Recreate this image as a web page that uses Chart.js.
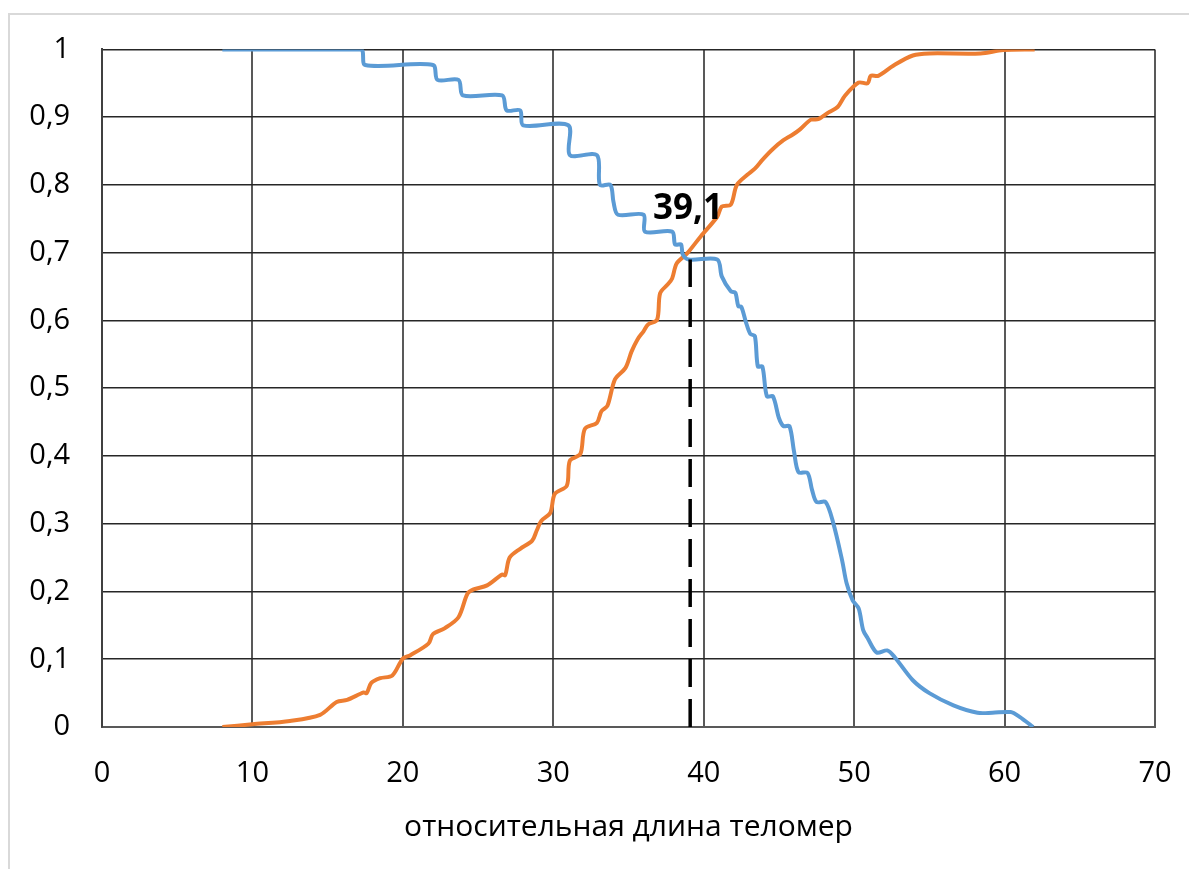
<!DOCTYPE html>
<html lang="ru">
<head>
  <meta charset="UTF-8">
  <title>Относительная длина теломер</title>
  <script src="https://cdn.jsdelivr.net/npm/chart.js"></script>
  <style>
    body {
      margin: 0;
      background: #fff;
      overflow: hidden;
    }
    .frame {
      position: absolute;
      left: 8px;
      top: 13px;
      width: 1300px;
      height: 1000px;
      border: 2px solid #d9d9d9;
    }
    #chartBox {
      position: absolute;
      left: 0;
      top: 0;
      width: 1189px;
      height: 869px;
    }
  </style>
</head>
<body>
  <div class="frame"></div>
  <div id="chartBox"><canvas id="telomereChart" width="1189" height="869"></canvas></div>

  <script>
    // blue curve (descending)
    const blueX = [8, 17.2, 17.5, 22, 22.3, 23.7, 24, 26.6, 26.9, 27.8, 28, 31, 31.1, 32.9, 33.1, 33.8, 34, 34.3, 36, 36.1,
      37.9, 38.1, 38.5, 38.6, 39.0, 40.9, 41.2, 41.8, 42.1, 42.3, 42.5, 42.8, 43.1, 43.4, 43.6, 43.9, 44.2, 44.6, 45.0, 45.3,
      45.7, 46.0, 46.3, 46.9, 47.2, 47.5, 48.1, 48.6, 49.2, 49.5, 49.9, 50.3, 50.6, 50.9, 51.5, 52.2, 52.7, 53.9, 55, 56.6,
      58.2, 59.2, 60.4, 61, 61.9];
    const blueY = [1, 1, 0.977, 0.977, 0.955, 0.955, 0.932, 0.932, 0.91, 0.91, 0.888, 0.888, 0.844, 0.844, 0.8, 0.8, 0.775, 0.756, 0.756, 0.731,
      0.731, 0.712, 0.712, 0.698, 0.69, 0.69, 0.665, 0.643, 0.641, 0.621, 0.62, 0.598, 0.58, 0.577, 0.532, 0.532, 0.488, 0.488, 0.456, 0.444,
      0.444, 0.407, 0.376, 0.375, 0.35, 0.332, 0.332, 0.302, 0.246, 0.212, 0.187, 0.175, 0.143, 0.131, 0.11, 0.113, 0.103, 0.069, 0.05, 0.032,
      0.021, 0.021, 0.022, 0.015, 0];

    // orange curve (ascending)
    const orangeX = [8, 10, 12.5, 14.5, 15.6, 16.3, 17.4, 17.6, 17.9, 18.5, 19.3, 20, 20.5, 21.7, 22, 22.8, 23.7, 24.3, 24.7, 25.6,
      26.6, 26.8, 27.1, 27.8, 28.6, 28.9, 29.2, 29.8, 30.1, 30.9, 31.1, 31.8, 32.1, 32.9, 33.2, 33.6, 34.1, 34.8, 35.2, 35.6,
      36, 36.3, 36.9, 37.1, 37.6, 37.9, 38.2, 38.9, 39.8, 40.9, 41.2, 41.8, 42.2, 42.9, 43.4, 43.9, 44.6, 45.3, 45.9, 46.4,
      47.1, 47.6, 48.3, 48.9, 49.4, 50.3, 50.9, 51.1, 51.6, 52.6, 53.9, 55, 58.4, 59.9, 62];
    const orangeY = [0, 0.004, 0.009, 0.018, 0.037, 0.04, 0.051, 0.05, 0.065, 0.072, 0.076, 0.101, 0.106, 0.123, 0.137, 0.146, 0.162, 0.197, 0.203, 0.209,
      0.225, 0.224, 0.25, 0.263, 0.275, 0.29, 0.304, 0.316, 0.344, 0.356, 0.393, 0.403, 0.44, 0.449, 0.466, 0.474, 0.513, 0.53, 0.554, 0.572,
      0.584, 0.594, 0.601, 0.64, 0.653, 0.662, 0.684, 0.699, 0.724, 0.753, 0.768, 0.771, 0.8, 0.815, 0.824, 0.837, 0.853, 0.866, 0.874, 0.882,
      0.896, 0.897, 0.907, 0.915, 0.932, 0.951, 0.95, 0.961, 0.961, 0.976, 0.991, 0.994, 0.994, 0.999, 1];

    // crossing marker
    const crossX = [39.1, 39.1];
    const crossY = [0, 0.69];
    const crossLabel = '39,1';
    const crossLabelAt = [38.95, 0.75];

    const xTicks = [0, 10, 20, 30, 40, 50, 60, 70];
    const yTicks = [0, 0.1, 0.2, 0.3, 0.4, 0.5, 0.6, 0.7, 0.8, 0.9, 1];
    const xTitle = 'относительная длина теломер';

    const FONT = "'Open Sans', sans-serif";

    function toPoints(xs, ys) {
      return xs.map((x, i) => ({ x: x, y: ys[i] }));
    }

    const labelPlugin = {
      id: 'crossLabel',
      afterDatasetsDraw(chart) {
        const ctx = chart.ctx;
        const px = chart.scales.x.getPixelForValue(crossLabelAt[0]);
        const py = chart.scales.y.getPixelForValue(crossLabelAt[1]);
        ctx.save();
        ctx.font = "bold 35px " + FONT;
        ctx.fillStyle = '#000';
        ctx.textAlign = 'center';
        ctx.textBaseline = 'alphabetic';
        ctx.fillText(crossLabel, px, py);
        ctx.restore();
      }
    };

    const chart = new Chart(document.getElementById('telomereChart'), {
      type: 'line',
      data: {
        datasets: [
          {
            data: toPoints(crossX, crossY),
            borderColor: '#000',
            borderWidth: 3.5,
            borderDash: [28, 12],
            pointRadius: 0,
            tension: 0
          },
          {
            data: toPoints(blueX, blueY),
            borderColor: '#5B9BD5',
            borderWidth: 4,
            pointRadius: 0,
            tension: 0.3
          },
          {
            data: toPoints(orangeX, orangeY),
            borderColor: '#ED7D31',
            borderWidth: 4,
            pointRadius: 0,
            tension: 0.3
          }
        ]
      },
      options: {
        responsive: false,
        animation: false,
        layout: { padding: { left: 0, top: 47, right: 34, bottom: 0 } },
        plugins: {
          legend: { display: false },
          tooltip: { enabled: false }
        },
        scales: {
          x: {
            type: 'linear',
            min: 0,
            max: 70,
            afterBuildTicks: s => { s.ticks = xTicks.map(v => ({ value: v })); },
            afterFit: s => { s.height = 142; },
            // invisible tick marks give the label gap without widening the side padding
            grid: { color: '#595959', lineWidth: 2, drawTicks: true, tickLength: 29, tickColor: 'rgba(0,0,0,0)' },
            border: { color: '#595959', width: 2 },
            ticks: {
              padding: 0,
              color: '#000',
              font: { family: FONT, size: 29 },
              callback: v => String(v)
            },
            title: {
              display: true,
              text: xTitle,
              color: '#000',
              font: { family: FONT, size: 30 },
              padding: { top: 0, bottom: 24 }
            }
          },
          y: {
            type: 'linear',
            min: 0,
            max: 1,
            afterBuildTicks: s => { s.ticks = yTicks.map(v => ({ value: v })); },
            afterFit: s => { s.width = 102; },
            grid: { color: '#262626', lineWidth: 1.5, drawTicks: false },
            border: { color: '#404040', width: 2 },
            ticks: {
              padding: 32,
              color: '#000',
              font: { family: FONT, size: 29 },
              callback: v => String(Math.round(v * 10) / 10).replace('.', ',')
            }
          }
        }
      },
      plugins: [labelPlugin]
    });
  </script>
</body>
</html>
